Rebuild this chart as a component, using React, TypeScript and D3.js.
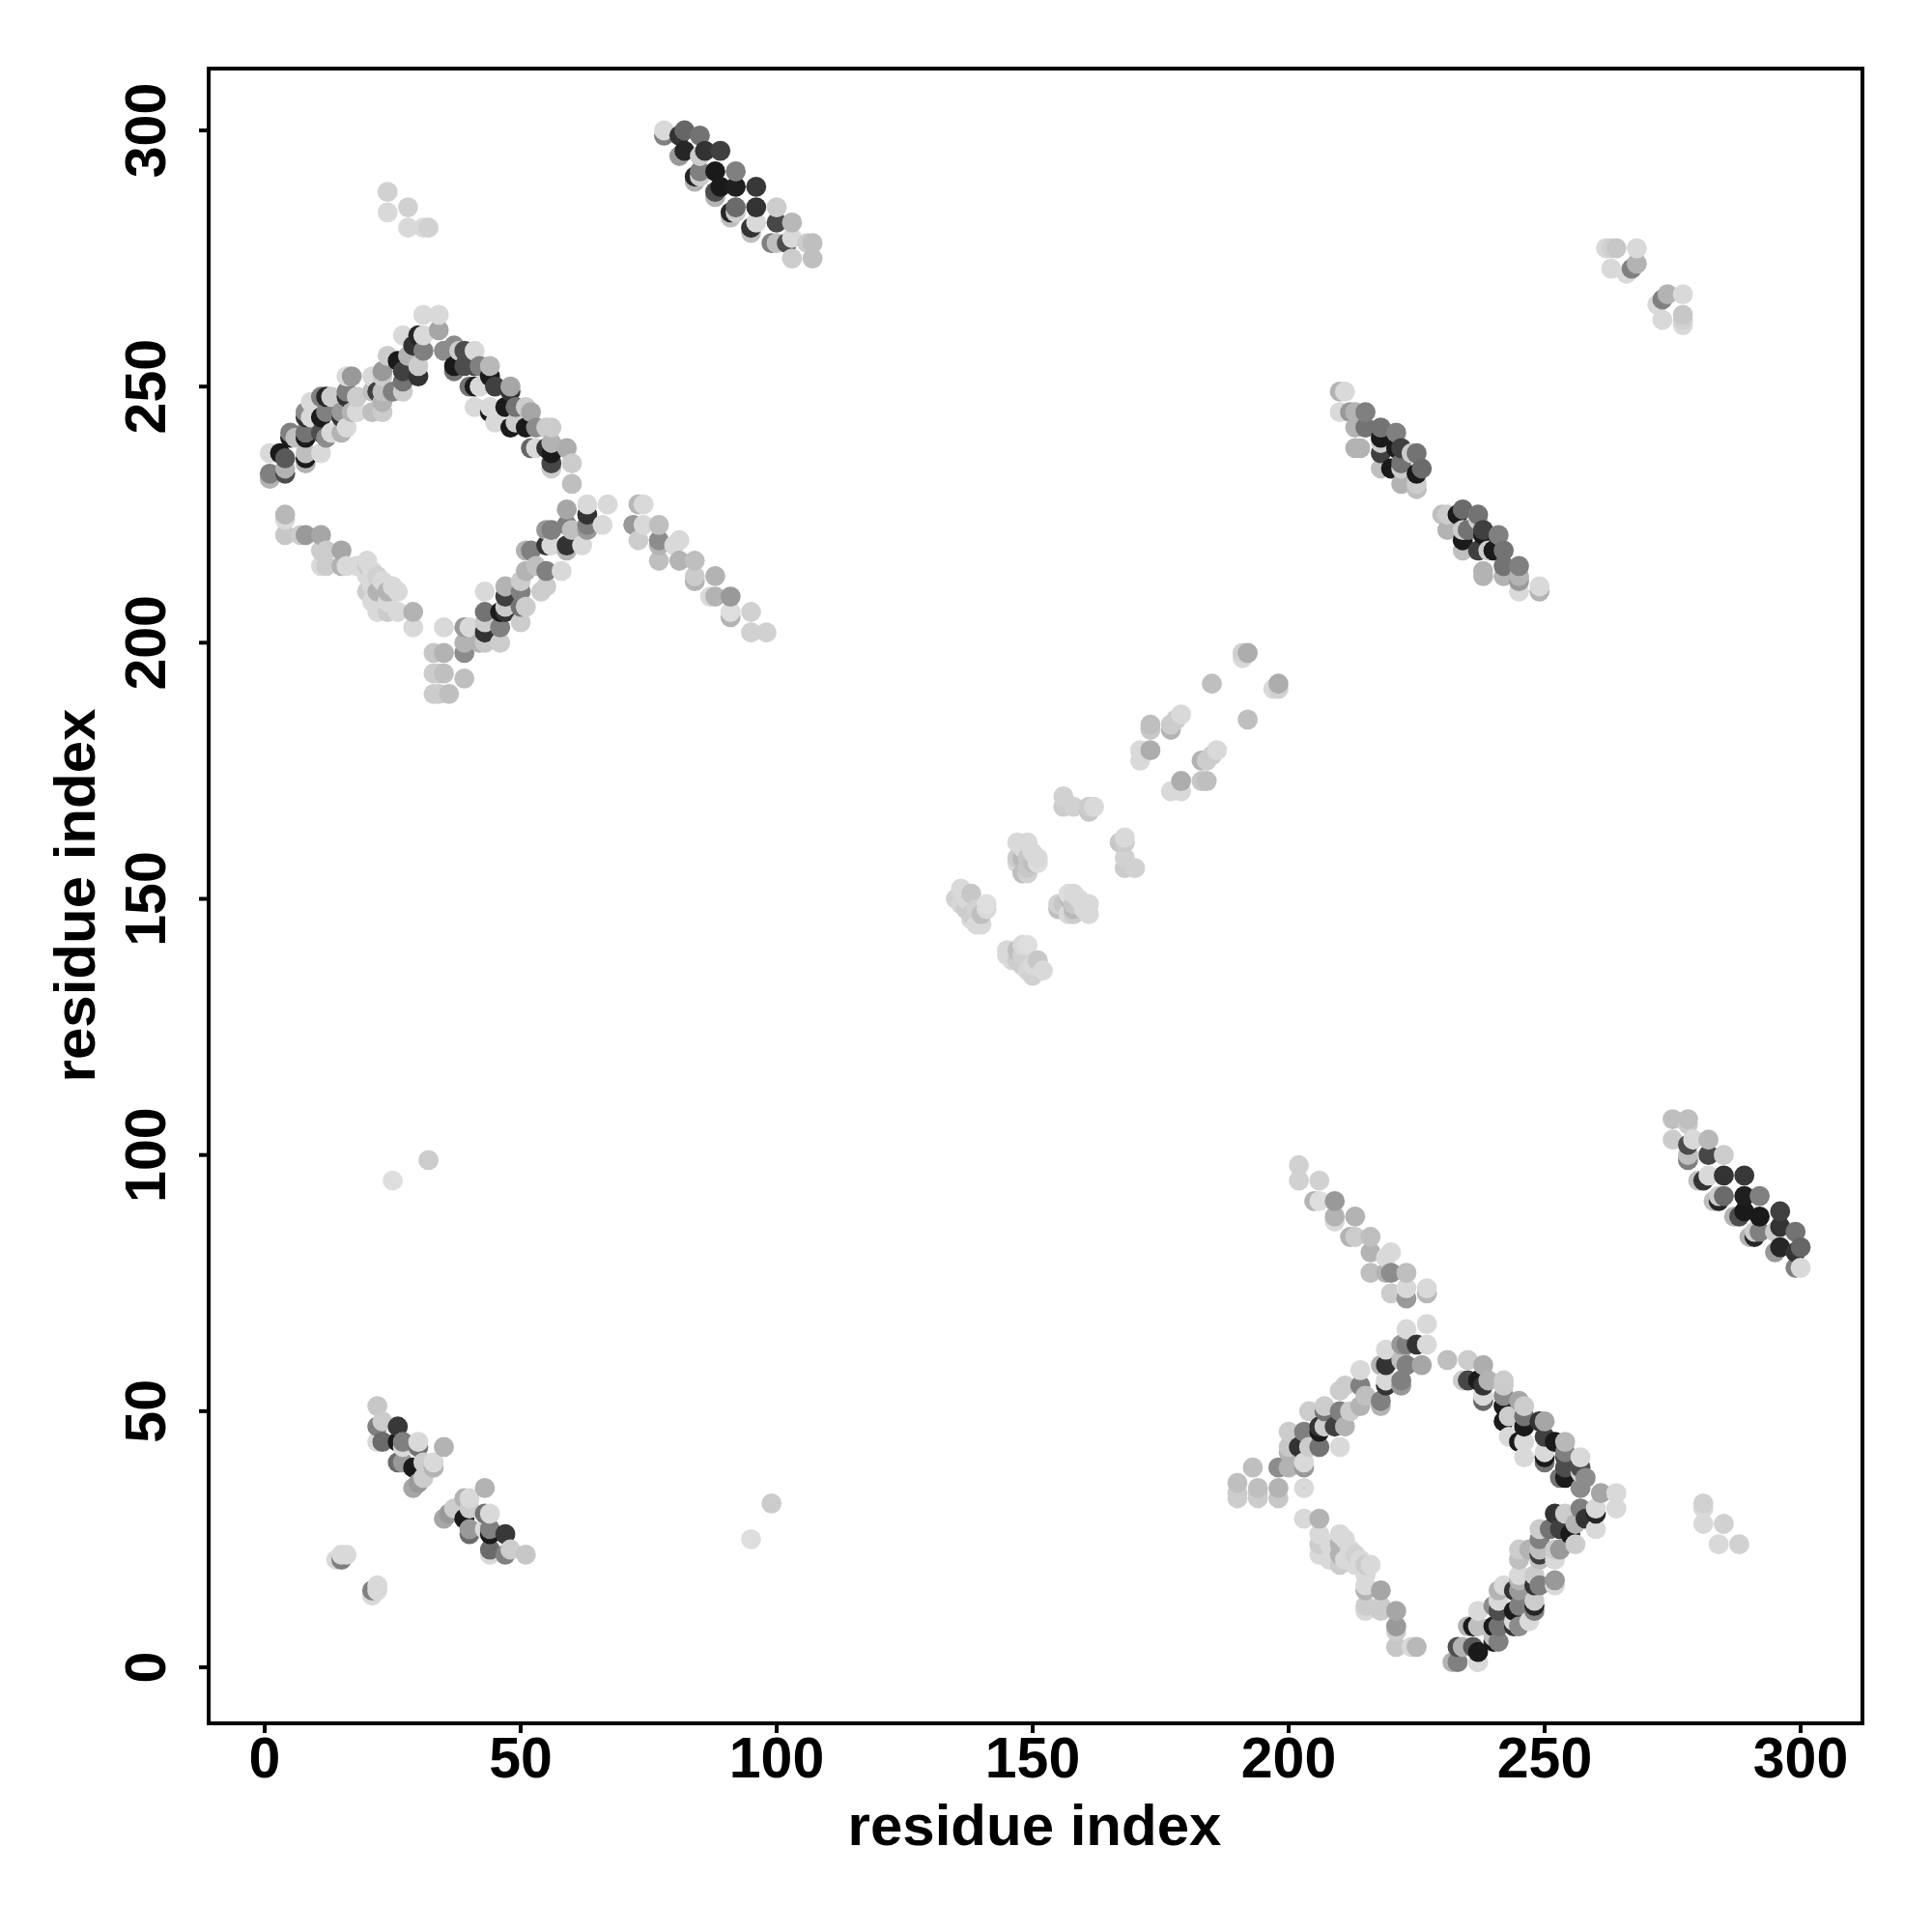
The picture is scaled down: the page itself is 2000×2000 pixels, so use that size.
import React from "react";
import * as d3 from "d3";

type C = [number, number, number];

const helixA: C[] = [[78,300,.85],[78,299,.5],[82,300,.4],[81,299,.2],[85,299,.45],[82,296,.15],[81,295,.6],[86,296,.2],[85,295,.8],[89,296,.25],[85,292,.5],[85,291,.8],[84,291,.15],[84,290,.7],[88,292,.1],[92,292,.5],[89,289,.1],[88,288,.3],[88,287,.7],[92,289,.12],[96,289,.22],[92,285,.42],[92,284,.8],[91,284,.15],[91,283,.75],[96,285,.2],[100,285,.8],[96,282,.85],[95,281,.2],[95,280,.75],[100,282,.28],[103,282,.72],[100,278,.75],[99,278,.5],[103,279,.85],[102,278,.3],[103,275,.8],[107,278,.75],[106,278,.8],[107,275,.75]];

const arcTop: C[] = [[1,237,.85],[1,233,.5],[1,232,.7],[4,234,.7],[4,233,.3],[4,236,.35],[3,237,.1],[5,240,.1],[5,241,.5],[6,240,.75],[8,237,.75],[8,236,.1],[8,235,.7],[11,237,.85],[8,240,.1],[8,241,.45],[8,244,.2],[8,245,.55],[9,244,.85],[9,247,.85],[12,248,.15],[11,248,.5],[13,248,.8],[12,245,.5],[11,244,.1],[12,240,.55],[13,241,.85],[11,241,.3],[15,241,.7],[16,242,.85],[15,244,.2],[15,245,.6],[18,245,.85],[17,245,.7],[16,248,.2],[16,249,.5],[18,248,.8],[17,252,.6],[16,252,.85],[21,252,.85],[21,249,.75],[21,245,.75],[23,245,.8],[22,249,.25],[23,249,.75],[23,247,.7],[23,253,.6],[23,252,.8],[24,256,.8],[25,249,.5],[27,249,.8],[27,253,.25],[27,251,.45],[26,255,.1],[28,256,.7],[27,260,.85],[30,254,.8],[30,252,.2],[29,258,.2],[31,257,.5],[30,260,.15],[31,260,.85],[31,264,.85],[34,264,.85],[34,261,.65],[35,257,.55],[37,258,.55],[37,254,.1],[37,253,.45],[41,257,.85],[39,257,.3],[38,257,.8],[41,254,.3],[39,254,.3],[42,254,.5],[44,254,.72],[44,252,.1],[40,250,.45],[41,250,.1],[42,250,.85],[45,250,.25],[48,250,.65],[48,249,.2],[41,246,.85],[44,246,.85],[44,245,.1],[45,243,.85],[47,246,.1],[49,246,.45],[49,243,.8],[48,242,.1],[51,246,.8],[52,245,.65],[51,242,.1],[53,242,.55],[56,242,.8],[55,242,.8],[52,238,.4],[53,238,.85],[56,239,.7],[55,238,.2],[56,237,.1],[56,235,.28],[56,234,.8],[59,238,.68],[60,235,.8],[60,231,.75]];

const arcLeft: C[] = [[4,225,.72],[4,224,.85],[4,221,.78],[7,221,.8],[8,221,.6],[11,221,.65],[12,218,.8],[11,218,.8],[11,215,.85],[12,215,.8],[15,218,.65],[15,215,.7],[16,215,.85],[18,215,.85],[20,216,.85],[21,214,.85],[20,215,.8],[20,210,.8],[20,213,.85],[21,212,.85],[22,213,.82],[23,212,.85],[22,210,.7],[21,211,.85],[21,208,.85],[25,211,.85],[26,210,.85],[24,210,.7],[22,206,.85],[24,206,.8],[24,208,.85],[26,206,.85],[29,206,.7],[29,203,.85]];

const arcCentre: C[] = [[33,198,.78],[35,198,.7],[33,194,.8],[34,194,.8],[35,194,.75],[39,193,.75],[33,190,.8],[36,190,.75],[34,190,.8],[35,203,.85],[39,198,.55],[39,200,.7],[39,203,.6],[40,203,.85],[43,200,.78],[42,200,.7],[46,200,.8],[43,204,.8],[43,202,.2],[46,203,.5],[43,210,.85],[43,206,.45],[47,211,.7],[47,209,.25],[47,207,.8],[47,206,.2],[46,206,.1],[50,204,.8],[51,207,.8],[50,207,.45],[50,210,.5],[50,212,.8],[51,214,.7],[52,218,.5],[51,218,.7],[53,215,.75],[55,214,.5],[55,211,.8],[54,210,.8],[58,214,.85],[56,222,.5],[55,222,.6],[56,219,.85],[55,219,.2],[59,219,.2],[59,218,.7],[62,219,.85],[60,222,.75],[59,223,.5],[63,223,.5],[63,222,.6],[66,223,.85],[59,226,.65],[63,227,.85],[63,225,.2],[67,227,.85]];

const arcRight: C[] = [[74,227,.85],[73,227,.72],[74,223,.85],[72,223,.6],[73,220,.8],[77,223,.75],[77,220,.55],[77,219,.7],[77,216,.75],[81,220,.85],[80,219,.85],[81,216,.7],[84,216,.75],[84,213,.8],[84,212,.7],[88,213,.7],[88,209,.7],[87,209,.85],[91,209,.6],[91,206,.87],[91,205,.7],[95,206,.82],[95,202,.82],[98,202,.82]];

const centreBand: C[] = [[135,150,.82],[136,152,.85],[136,149,.84],[137,150,.85],[137,148,.8],[138,151,.78],[138,147,.8],[138,146,.85],[139,145,.85],[139,148,.82],[140,147,.75],[140,145,.85],[141,149,.87],[141,148,.85],[147,161,.85],[149,161,.85],[148,160,.85],[147,158,.8],[148,158,.72],[149,158,.78],[149,156,.78],[150,159,.85],[150,157,.75],[151,158,.85],[151,157,.87],[148,155,.75],[149,155,.82],[147,157,.85],[156,170,.82],[156,168,.8],[158,168,.82],[161,168,.8],[162,168,.85],[161,167,.78],[171,179,.85],[171,177,.85],[173,179,.68],[173,184,.75],[173,183,.78],[177,183,.7],[177,184,.8],[178,185,.8],[179,186,.85],[185,192,.75],[191,197,.85],[191,198,.82],[192,198,.68]];

const rightBand: C[] = [[210,249,.7],[211,249,.85],[210,245,.85],[212,245,.6],[213,245,.7],[215,245,.5],[213,242,.7],[215,242,.45],[214,238,.7],[213,238,.7],[218,242,.45],[218,240,.1],[221,241,.5],[222,238,.25],[221,238,.1],[218,239,.8],[218,237,.25],[218,234,.75],[225,237,.45],[224,237,.8],[226,234,.42],[225,233,.1],[222,234,.8],[222,235,.45],[220,234,.1],[222,231,.7],[225,231,.8],[225,230,.75]];

const lowerBand: C[] = [[22,51,.78],[23,48,.8],[22,47,.5],[26,47,.22],[23,44,.42],[22,44,.85],[27,44,.5],[26,44,.1],[30,44,.85],[30,43,.45],[35,43,.7],[26,40,.42],[27,40,.6],[27,43,.85],[29,39,.1],[31,40,.8],[33,40,.85],[33,39,.7],[31,37,.8],[30,36,.6],[29,35,.65],[15,22,.85],[16,22,.85],[15,21,.5],[14,21,.85]];

const upperRight: C[] = [[263,277,.82],[262,277,.85],[263,273,.85],[268,277,.85],[266,272,.85],[268,274,.7],[267,273,.5],[264,277,.78]];

const isolated: C[] = [[25,95,.87],[32,99,.8],[24,288,.82],[24,284,.85],[28,285,.82],[28,281,.85],[31,281,.85],[32,281,.82]];

const tickValues = [0, 50, 100, 150, 200, 250, 300];
const axisTitle = "residue index";

const x = d3.scaleLinear().domain([0, 300]).range([274, 1864]);
const y = d3.scaleLinear().domain([0, 300]).range([1726, 135]);
const grey = d3.scaleLinear<string>().domain([0, 1]).range(["#000000", "#ffffff"]);

const half = [...helixA, ...arcTop, ...arcLeft, ...arcCentre, ...arcRight, ...centreBand, ...rightBand, ...lowerBand, ...upperRight, ...isolated];
const points: C[] = [...half, ...half.map(([i, j, g]) => [j, i, g] as C)]
  .sort((a, b) => d3.ascending(a[0], b[0]) || d3.ascending(a[1], b[1]));

const frame = { left: 216, right: 1928, top: 71, bottom: 1784 };
const font = "'Liberation Sans', Arial, sans-serif";

export default function App() {
  return (
    <svg width={2000} height={2000} style={{ position: "absolute", left: 0, top: 0, background: "#fff" }}>
      {points.map((p, k) => (
        <circle key={k} cx={x(p[0])} cy={y(p[1])} r={10.4} fill={grey(p[2])} />
      ))}
      <rect x={frame.left} y={frame.top} width={frame.right - frame.left} height={frame.bottom - frame.top} fill="none" stroke="#000" strokeWidth={4} />
      <g fontFamily={font} fontWeight="bold" fontSize={59} fill="#000">
        {tickValues.map((t) => (
          <g key={t}>
            <line x1={x(t)} x2={x(t)} y1={frame.bottom} y2={frame.bottom + 10} stroke="#000" strokeWidth={4} />
            <text x={x(t)} y={1840} textAnchor="middle">{t}</text>
            <line x1={frame.left - 10} x2={frame.left} y1={y(t)} y2={y(t)} stroke="#000" strokeWidth={4} />
            <text transform={`translate(171,${y(t)}) rotate(-90)`} textAnchor="middle">{t}</text>
          </g>
        ))}
        <text x={1071} y={1910} textAnchor="middle" fontSize={60}>{axisTitle}</text>
        <text transform="translate(98,927) rotate(-90)" textAnchor="middle" fontSize={60}>{axisTitle}</text>
      </g>
    </svg>
  );
}
